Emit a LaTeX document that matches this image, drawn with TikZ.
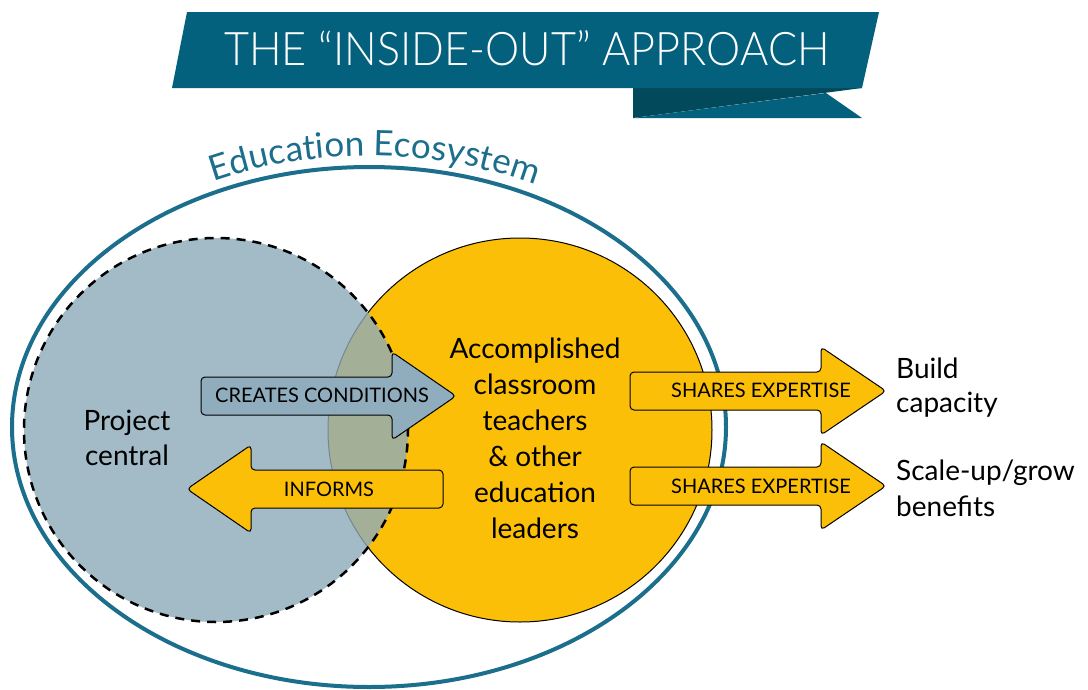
\documentclass[tikz,border=0pt]{standalone}
\usepackage{graphicx}
\usepackage{fontspec}
\setmainfont{Lato}
\newfontfamily\titlefont{Lato Light}
\usepackage{tikz}
\usetikzlibrary{decorations.text}
\definecolor{ecoteal}{RGB}{27,110,140}
\definecolor{bannerblue}{RGB}{4,97,125}
\definecolor{bannerdark}{RGB}{3,73,92}
\definecolor{centralgray}{RGB}{141,171,186}
\definecolor{leaderyellow}{RGB}{252,191,8}
\definecolor{arrowgray}{RGB}{143,173,189}

\begin{document}
\begin{tikzpicture}[x=1pt,y=1pt,
	arrowbox/.style={draw=black,line width=1pt,rounded corners=4pt},
	armlabel/.style={inner sep=0pt,font=\fontsize{20}{24}\selectfont},
	bodytext/.style={inner sep=0pt,align=center,font=\fontsize{28}{35}\selectfont}]
	\path[use as bounding box,fill=white] (0,0) rectangle (1088,-689);
	% banner
	\fill[bannerdark] (633,-88) -- (862,-88) -- (633,-118) -- cycle;
	\fill[bannerblue] (633,-118) -- (826,-93) -- (862,-118) -- cycle;
	\fill[bannerblue] (187,-12) -- (879,-12) -- (862,-88) -- (172,-88) -- cycle;
	\node[text=white,inner sep=0pt] (title) at (527,-48.5) {\resizebox{605pt}{35pt}{\titlefont THE “INSIDE-OUT” APPROACH}};
	% ecosystem
	\draw[ecoteal,line width=4pt] (369,-427) ellipse[x radius=357,y radius=260];
	\path[decorate,decoration={text along path,text align=center,text color=ecoteal,
		text={|\fontsize{35}{42}\selectfont|Education Ecosystem}}]
		([shift={(369,-427)}]132:368 and 271) arc[start angle=132,end angle=46,x radius=368,y radius=271];
	%
	\draw[black,line width=1pt,fill=leaderyellow] (520,-430) circle[radius=192];
	\fill[centralgray,fill opacity=0.8] (216,-430) circle[radius=192];
	\draw[black,line width=2.5pt,dash pattern=on 9pt off 7pt] (216,-430) circle[radius=192];
	%
	\draw[arrowbox,fill=arrowgray] (201,-396) -- (201,-377) -- (392,-377) -- (392,-352) -- (456,-396) -- (392,-440) -- (392,-415) -- (201,-415) -- cycle;
	\draw[arrowbox,fill=leaderyellow] (443,-489) -- (443,-470) -- (251,-470) -- (251,-445) -- (187,-489) -- (251,-533) -- (251,-508) -- (443,-508) -- cycle;
	\draw[arrowbox,fill=leaderyellow] (630,-391) -- (630,-372) -- (821,-372) -- (821,-347) -- (886,-391) -- (821,-435) -- (821,-410) -- (630,-410) -- cycle;
	\draw[arrowbox,fill=leaderyellow] (630,-486) -- (630,-467) -- (821,-467) -- (821,-442) -- (886,-486) -- (821,-530) -- (821,-505) -- (630,-505) -- cycle;
	%
	\node[armlabel] (creates) at (322,-395.5) {CREATES CONDITIONS};
	\node[armlabel] (informs) at (329,-489) {INFORMS};
	\node[armlabel] (shares1) at (761,-390.5) {SHARES EXPERTISE};
	\node[armlabel] (shares2) at (761,-486.5) {SHARES EXPERTISE};
	%
	\node[bodytext] (project) at (127,-438) {Project\\central};
	\node[bodytext,font=\fontsize{28}{36}\selectfont] (leaders) at (535,-438) {Accomplished\\classroom\\teachers\\\&~other\\education\\leaders};
	\node[bodytext,align=left,anchor=west,font=\fontsize{28}{34}\selectfont] (build) at (896,-388) {Build\\capacity};
	\node[bodytext,align=left,anchor=west,font=\fontsize{28}{36}\selectfont] (scaleup) at (896,-488) {Scale-up/grow\\benefits};
\end{tikzpicture}
\end{document}
